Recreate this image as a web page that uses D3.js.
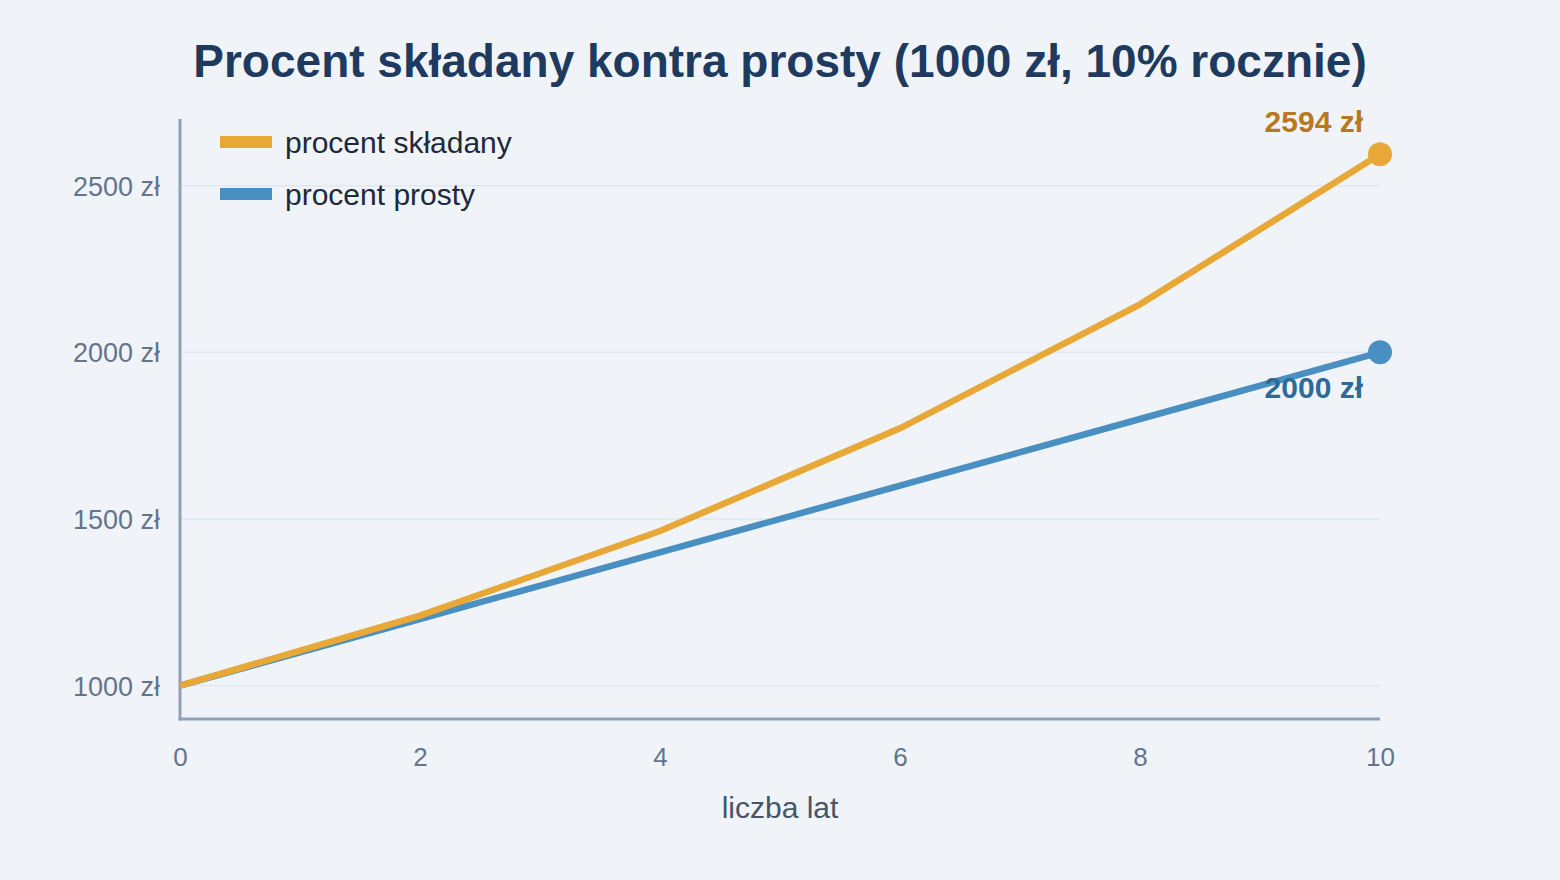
<!DOCTYPE html>
<html><head><meta charset="utf-8">
<script src="https://cdn.jsdelivr.net/npm/d3@7"></script>
<style>
html,body{margin:0;padding:0;background:#f0f4f9;}
svg{display:block;font-family:"Liberation Sans",Arial,Helvetica,sans-serif;}
</style></head>
<body>
<svg id="chart" width="1560" height="880"></svg>
<script>
const years = [0, 2, 4, 6, 8, 10];
const compound = [1000, 1210, 1464, 1772, 2144, 2594];
const simple = [1000, 1200, 1400, 1600, 1800, 2000];
const xTicks = [0, 2, 4, 6, 8, 10];
const yTicks = [1000, 1500, 2000, 2500];
const seriesNames = ["procent składany", "procent prosty"];
const colors = ["#e8a838", "#4a8fc1"];
const labelColors = ["#b8781f", "#2d6a9a"];

const svg = d3.select("#chart");
svg.append("rect").attr("width",1560).attr("height",880).attr("fill","#f0f4f9");

const x = d3.scaleLinear().domain([0,10]).range([180,1380]);
const y = d3.scaleLinear().domain([900,2700]).range([719,119]);

// title
svg.append("text").attr("x",780).attr("y",77).attr("text-anchor","middle")
  .attr("font-size",46).attr("font-weight","bold").attr("fill","#1e3a5f")
  .text("Procent składany kontra prosty (1000 zł, 10% rocznie)");

// grid
svg.append("g").selectAll("line").data(yTicks).join("line")
  .attr("x1",x(0)).attr("x2",x(10)).attr("y1",d=>y(d)).attr("y2",d=>y(d))
  .attr("stroke","#e0e7ef").attr("stroke-width",1.5);

// y axis
const yAxis = svg.append("g").attr("transform",`translate(${x(0)},0)`)
  .call(d3.axisLeft(y).tickValues(yTicks).tickSize(0).tickPadding(20).tickFormat(d=>d+" zł"));
yAxis.select(".domain").remove();
yAxis.attr("font-size",null).attr("font-family",null);
yAxis.selectAll("text").attr("font-size",27).attr("fill","#64748b").attr("dy","0.35em");

// x axis
const xAxis = svg.append("g").attr("transform",`translate(0,${y(900)})`)
  .call(d3.axisBottom(x).tickValues(xTicks).tickSize(0).tickPadding(29).tickFormat(d3.format("d")));
xAxis.select(".domain").remove();
xAxis.attr("font-size",null).attr("font-family",null);
xAxis.selectAll("text").attr("font-size",26).attr("fill","#64748b");

// axis lines
svg.append("line").attr("x1",x(0)).attr("x2",x(0)).attr("y1",y(2700)).attr("y2",y(900)+1.5)
  .attr("stroke","#8fa0b8").attr("stroke-width",3);
svg.append("line").attr("x1",x(0)-1.5).attr("x2",x(10)).attr("y1",y(900)).attr("y2",y(900))
  .attr("stroke","#8fa0b8").attr("stroke-width",3);

// axis label
svg.append("text").attr("x",780).attr("y",818).attr("text-anchor","middle")
  .attr("font-size",30).attr("fill","#475569").text("liczba lat");

const line = d3.line().x((d,i)=>x(years[i])).y(d=>y(d));
const data = [compound, simple];

// draw simple first, compound on top
[1,0].forEach(k=>{
  svg.append("path").datum(data[k]).attr("d",line).attr("fill","none")
    .attr("stroke",colors[k]).attr("stroke-width",6.5).attr("stroke-linejoin","miter");
});
[1,0].forEach(k=>{
  const last = data[k][data[k].length-1];
  svg.append("circle").attr("cx",x(years[years.length-1])).attr("cy",y(last)).attr("r",12)
    .attr("fill",colors[k]);
});

// end labels
svg.append("text").attr("x",x(10)-17).attr("y",y(compound[5])-22).attr("text-anchor","end")
  .attr("font-size",30).attr("font-weight","bold").attr("fill",labelColors[0])
  .text(compound[5]+" zł");
svg.append("text").attr("x",x(10)-17).attr("y",y(simple[5])+46).attr("text-anchor","end")
  .attr("font-size",30).attr("font-weight","bold").attr("fill",labelColors[1])
  .text(simple[5]+" zł");

// legend
seriesNames.forEach((n,i)=>{
  const ly = 142 + i*52;
  svg.append("rect").attr("x",220).attr("y",ly-6).attr("width",52).attr("height",12).attr("fill",colors[i]);
  svg.append("text").attr("x",285).attr("y",ly+11).attr("font-size",30).attr("fill","#1e293b").text(n);
});
</script>
</body></html>
